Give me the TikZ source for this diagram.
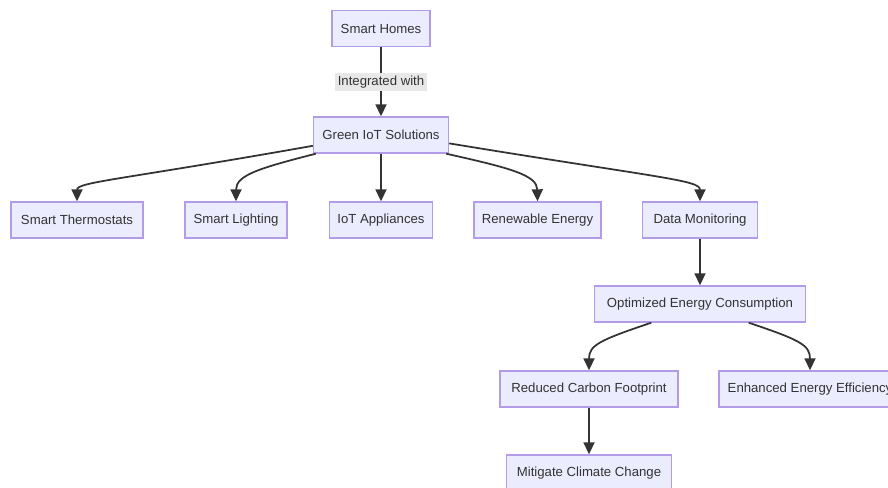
\documentclass[tikz,border=0pt]{standalone}
\usepackage{fontspec}
\setmainfont{Liberation Sans}
\usepackage{tikz}
\usetikzlibrary{arrows.meta,positioning}
\usepackage{xcolor}
\definecolor{mmfill}{RGB}{236,236,255}
\definecolor{mmborder}{RGB}{178,156,232}
\definecolor{mmline}{RGB}{51,51,51}
\definecolor{mmlabel}{RGB}{232,232,232}
\tikzstyle{arrow} = [line width=1pt,->,>={Triangle[length=2.4mm,width=2.2mm]},color=mmline]
\tikzstyle{box} = [rectangle, minimum height=0.72cm, text centered, draw=mmborder, fill=mmfill, line width=0.8pt, font=\fontsize{7.5}{9}\selectfont, text=black!80]

\begin{document}
\begin{tikzpicture}[x=0.02cm, y=-0.02cm]
\path[use as bounding box, clip] (0,0) rectangle (888,487);

% Top
\node[box, minimum width=1.96cm] (homes) at (381,28.5) {Smart Homes};
\node[box, minimum width=2.7cm] (green) at (381,135) {Green IoT Solutions};
\draw[arrow] (homes) -- (green) node[midway, fill=mmlabel, inner sep=1.5pt, font=\fontsize{7.5}{9}\selectfont, text=black!80] (integrated) {Integrated with};

% Devices
\node[box, minimum width=2.64cm] (thermo) at (77,220) {Smart Thermostats};
\node[box, minimum width=2.04cm] (lighting) at (236,220) {Smart Lighting};
\node[box, minimum width=2.06cm] (appliances) at (381,220) {IoT Appliances};
\node[box, minimum width=2.54cm] (renewable) at (537.5,220) {Renewable Energy};
\node[box, minimum width=2.3cm] (monitoring) at (700,220) {Data Monitoring};

\draw[arrow] (green.189) .. controls (120,180) and (77,182) .. (thermo.north);
\draw[arrow] (green.196) .. controls (260,168) and (236,175) .. (lighting.north);
\draw[arrow] (green.south) -- (appliances.north);
\draw[arrow] (green.-16) .. controls (510,168) and (537,175) .. (renewable.north);
\draw[arrow] (green.-7) .. controls (660,178) and (700,180) .. (monitoring.north);

% Outcomes
\node[box, minimum width=4.22cm] (optimized) at (700,304) {Optimized Energy Consumption};
\draw[arrow] (monitoring) -- (optimized);

\node[box, minimum width=3.56cm] (carbon) at (589,389) {Reduced Carbon Footprint};
\node[box, minimum width=3.64cm] (efficiency) at (810,389) {Enhanced Energy Efficiency};
\draw[arrow] (optimized.201) .. controls (600,340) and (589,345) .. (carbon.north);
\draw[arrow] (optimized.-21) .. controls (800,340) and (810,345) .. (efficiency.north);

\node[box, minimum width=3.3cm] (climate) at (589,473) {Mitigate Climate Change};
\draw[arrow] (carbon) -- (climate);
\end{tikzpicture}
\end{document}
